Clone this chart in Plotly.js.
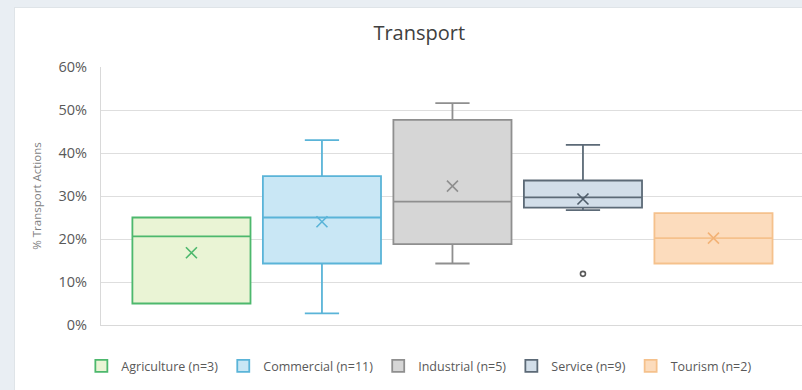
<!DOCTYPE html>
<html>
<head>
<meta charset="utf-8">
<script src="https://cdn.plot.ly/plotly-3.0.1.min.js"></script>
<style>
  html, body { margin: 0; padding: 0; background: #e9eef3; width: 802px; height: 390px; overflow: hidden; }
  #chart { position: absolute; left: 14px; top: 7px; width: 788px; height: 383px; background: #fff; border-left: 1px solid #dfe4e8; border-top: 1px solid #dfe4e8; box-sizing: border-box; }
</style>
</head>
<body>
<div id="chart"></div>
<script>
  const groups = ["Agriculture (n=3)", "Commercial (n=11)", "Industrial (n=5)", "Service (n=9)", "Tourism (n=2)"];
  const lowerFence = [5.0, 2.7, 14.3, 26.7, 14.3];
  const q1 = [5.0, 14.3, 18.8, 27.3, 14.3];
  const median = [20.6, 25.0, 28.7, 29.7, 20.2];
  const q3 = [25.0, 34.6, 47.7, 33.6, 26.0];
  const upperFence = [25.0, 43.0, 51.6, 41.9, 26.0];
  const mean = [16.8, 24.0, 32.3, 29.3, 20.2];
  const outlierGroup = [3];
  const outlierValue = [11.9];

  const lineColors = ["#4db86d", "#5ab4d8", "#8f8f8f", "#5c6a77", "#f5c18c"];
  const fillColors = ["#eaf4d5", "#c9e7f5", "#d6d6d6", "#d2dee9", "#fcdcbd"];
  const meanColors = ["#4db86d", "#5ab4d8", "#8f8f8f", "#4f5d6a", "#f3b377"];

  const traces = groups.map((name, i) => ({
    type: "box",
    name,
    x: [i],
    q1: [q1[i]],
    median: [median[i]],
    q3: [q3[i]],
    lowerfence: [lowerFence[i]],
    upperfence: [upperFence[i]],
    width: 0.905,
    whiskerwidth: 0.29,
    fillcolor: fillColors[i],
    line: { color: lineColors[i], width: 1.8 },
    hoverinfo: "skip",
  }));

  // mean markers (Excel style X)
  groups.forEach((name, i) => {
    traces.push({
      type: "scatter",
      mode: "markers",
      x: [i],
      y: [mean[i]],
      showlegend: false,
      hoverinfo: "skip",
      marker: { symbol: "x-thin", size: 11, line: { width: 1.6, color: meanColors[i] } },
    });
  });

  traces.push({
    type: "scatter",
    mode: "markers",
    x: outlierGroup,
    y: outlierValue,
    showlegend: false,
    hoverinfo: "skip",
    marker: { symbol: "circle-open", size: 5, color: "#595959", line: { width: 1.6 } },
  });

  Plotly.newPlot("chart", traces, {
    width: 788,
    height: 383,
    margin: { l: 86, r: 0, t: 59, b: 66 },
    paper_bgcolor: "rgba(0,0,0,0)",
    plot_bgcolor: "#ffffff",
    font: { family: "'Open Sans', sans-serif", color: "#595959" },
    title: {
      text: "Transport",
      x: 0.513,
      xanchor: "center",
      y: 0.935,
      yanchor: "middle",
      font: { size: 20, color: "#404040", family: "'Open Sans', sans-serif" },
    },
    xaxis: {
      range: [-0.693, 4.686],
      showticklabels: false,
      showgrid: false,
      zeroline: false,
      showline: true,
      linecolor: "#d9d9d9",
      linewidth: 1,
      fixedrange: true,
    },
    yaxis: {
      range: [0, 60],
      dtick: 10,
      ticksuffix: "%",
      showgrid: true,
      gridcolor: "#dedede",
      gridwidth: 1,
      zeroline: false,
      showline: true,
      linecolor: "#d9d9d9",
      linewidth: 1,
      ticks: "",
      ticklabelstandoff: 10,
      tickfont: { size: 14.5, color: "#595959" },
      title: {
        text: "% Transport Actions",
        standoff: 14,
        font: { size: 11.5, color: "#7f7f7f", family: "'Open Sans', sans-serif" },
      },
      fixedrange: true,
    },
    legend: {
      orientation: "h",
      x: 0.4535,
      xanchor: "center",
      y: -0.16,
      yanchor: "middle",
      font: { size: 12.5, color: "#595959" },
      itemwidth: 30,
      traceorder: "normal",
    },
    showlegend: true,
  }, { displayModeBar: false, staticPlot: true });
</script>
</body>
</html>
